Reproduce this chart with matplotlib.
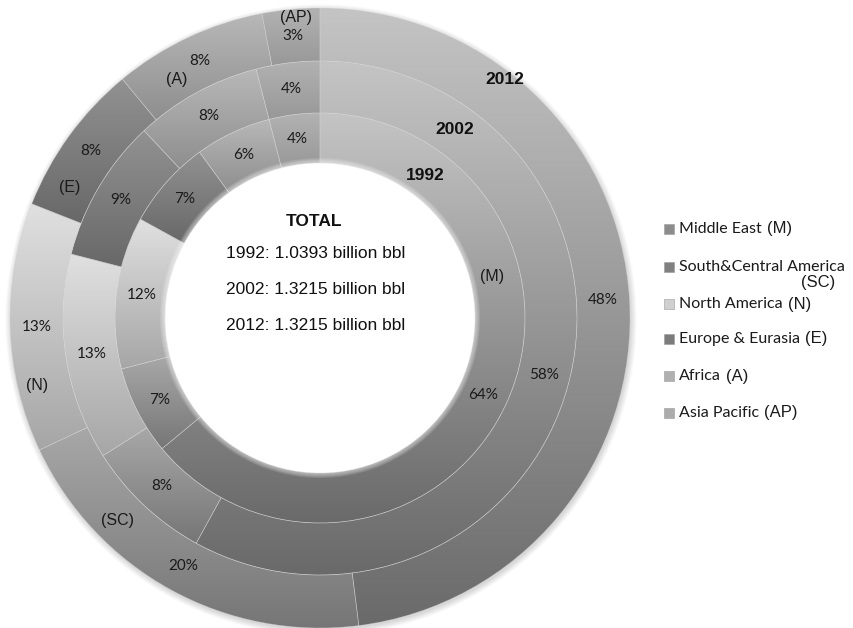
import numpy as np
import matplotlib
matplotlib.use('Agg')
import matplotlib.pyplot as plt
from matplotlib.patches import Wedge, Circle, Rectangle
from matplotlib.colors import to_rgb

# Oil reserves share by region, three snapshots
regions = ['Middle East', 'South&Central America', 'North America',
           'Europe & Eurasia', 'Africa', 'Asia Pacific']
codes = ['M', 'SC', 'N', 'E', 'A', 'AP']
years = ['1992', '2002', '2012']
share_1992 = [64, 7, 12, 7, 6, 4]
share_2002 = [58, 8, 13, 9, 8, 4]
share_2012 = [48, 20, 13, 8, 8, 3]
totals = ['1.0393', '1.3215', '1.3215']

# gray shading per region: (top of wedge, bottom of wedge)
shades = {
    'M':  ('#c4c4c4', '#6a6a6a'),
    'SC': ('#a8a8a8', '#767676'),
    'N':  ('#e0e0e0', '#a6a6a6'),
    'E':  ('#929292', '#686868'),
    'A':  ('#b8b8b8', '#8e8e8e'),
    'AP': ('#b2b2b2', '#989898'),
}
legend_fill = {'M': '#8c8c8c', 'SC': '#808080', 'N': '#d0d0d0',
               'E': '#7c7c7c', 'A': '#b0b0b0', 'AP': '#acacac'}

SANS = 'Liberation Sans'
HUMAN = 'Lato'

W, H = 854, 628
fig = plt.figure(figsize=(W / 100, H / 100), dpi=100)
ax = fig.add_axes([0, 0, 1, 1])
ax.set_axis_off()

cx, cy = 320, 318
radii = [155, 205, 257, 310]


def xy(phi, r):
    # phi: degrees clockwise from 12 o'clock
    a = np.radians(phi)
    return cx + r * np.sin(a), cy - r * np.cos(a)


# soft drop shadow around the outer ring (kept out of the hole)
for k in range(8):
    ax.add_patch(Wedge((cx + 1, cy + 2), radii[-1] + k * 0.8, 0, 360,
                       width=40, fc='k', ec='none', alpha=0.02, zorder=0))

grad = np.linspace(0, 1, 256)[:, None, None]
all_shares = [share_1992, share_2002, share_2012]
for ring, shares in enumerate(all_shares):
    r_in, r_out = radii[ring], radii[ring + 1]
    r_mid = (r_in + r_out) / 2
    start = 0.0
    for code, v in zip(codes, shares):
        span = 360 * v / 100
        w = Wedge((cx, cy), r_out, start - 90, start + span - 90,
                  width=r_out - r_in, fc='none', ec='#d4d4d4', lw=0.5,
                  alpha=0.45, zorder=2)
        ax.add_patch(w)
        bb = w.get_path().get_extents()
        top, bot = shades[code]
        img = (1 - grad) * np.array(to_rgb(top)) + grad * np.array(to_rgb(bot))
        im = ax.imshow(img, extent=[bb.x0, bb.x1, bb.y1, bb.y0],
                       origin='upper', aspect='auto',
                       interpolation='bilinear', zorder=1)
        im.set_clip_path(w)

        tx, ty = xy(start + span / 2, r_mid)
        ax.text(tx, ty, f'{v}%', family=HUMAN, fontsize=11, color='#1a1a1a',
                ha='center', va='center', zorder=5)
        start += span

# soft edge of the centre hole
for k in range(6):
    ax.add_patch(Circle((cx, cy), radii[0] + k * 1.0, fc='white', ec='none',
                        alpha=0.12, zorder=3))

# region codes written on the rings
code_spots = {'AP': (355.4, 301), 'A': (329, 278), 'E': (297.6, 282),
              'N': (256.5, 291), 'SC': (225, 286), 'M': (76.6, 177)}
for code, (phi, r) in code_spots.items():
    tx, ty = xy(phi, r)
    ax.text(tx, ty, f'({code})', family=SANS, fontsize=11.5, color='#1a1a1a',
            ha='center', va='center', zorder=5)

# year labels on the Middle East side of each ring
year_spots = [(425, 175), (455, 130), (505, 80)]
for yr, (tx, ty) in zip(years, year_spots):
    ax.text(tx, ty, yr, family=SANS, fontsize=12.5, fontweight='bold',
            color='#111111', ha='center', va='center', zorder=5)

# totals in the middle
ax.text(314, 222, 'TOTAL', family=SANS, fontsize=12.5, fontweight='bold',
        color='#111111', ha='center', va='center', zorder=5)
for i, (yr, tot) in enumerate(zip(years, totals)):
    ax.text(316, 253 + i * 36.5, f'{yr}: {tot} billion bbl', family=SANS,
            fontsize=12.5, color='#111111', ha='center', va='center', zorder=5)

ax.set_xlim(0, W)
ax.set_ylim(H, 0)

# legend
leg_y = [229, 267, 304, 339, 376, 413]
fig.canvas.draw()
renderer = fig.canvas.get_renderer()
inv = ax.transData.inverted()
for name, code, ly in zip(regions, codes, leg_y):
    ax.add_patch(Rectangle((664, ly - 5), 10, 10, fc=legend_fill[code],
                           ec='#9a9a9a', lw=0.4, zorder=5))
    t = ax.text(679, ly, name, family=HUMAN, fontsize=11.5, color='#1a1a1a',
                ha='left', va='center', zorder=5)
    if code == 'SC':
        ax.text(818, ly + 16, f'({code})', family=SANS, fontsize=12,
                color='#1a1a1a', ha='center', va='center', zorder=5)
    else:
        ext = t.get_window_extent(renderer)
        x_end = inv.transform((ext.x1, ext.y0))[0]
        ax.text(x_end + 5, ly, f'({code})', family=SANS, fontsize=12,
                color='#1a1a1a', ha='left', va='center', zorder=5)

fig.savefig('out.png', dpi=100, facecolor='white')
